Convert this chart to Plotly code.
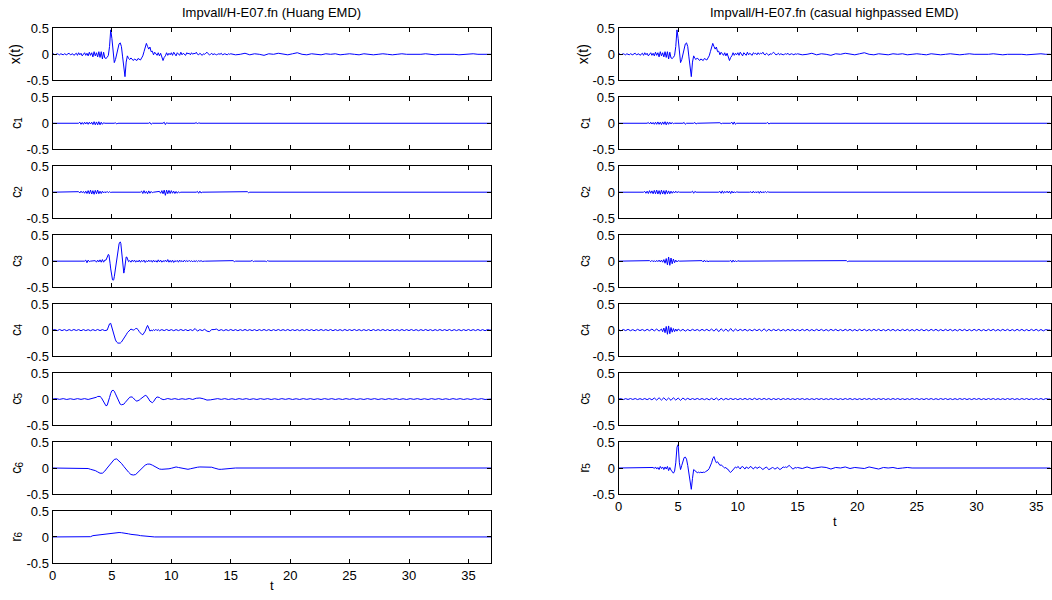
import plotly.graph_objects as go

# Record lengths (s) of the two decompositions
T_END_HUANG = 36.9
T_END_HP = 36.2

# Each series is stored as pieces: (start time, sample step, values)
# Pieces are joined in order; gaps between them are flat at zero.

# ground acceleration record x(t)
X_T = [
    (0.0, 0.1, [
        0.00, 0.01, -0.01, 0.00, 0.01, 0.00, -0.01, 0.01, 0.00, -0.01,
        0.01, 0.00, -0.01, 0.01, 0.02, -0.01, 0.00, 0.01, -0.02, 0.01,
        0.02, -0.02, 0.03, -0.01, 0.02, -0.03, 0.01, 0.03, -0.02, 0.02,
        -0.03, 0.04, -0.02, 0.03, -0.05, 0.05, -0.03, 0.03, -0.05, 0.05,
        -0.06, 0.05, -0.09, 0.04, -0.07, -0.08, -0.06, -0.02, 0.15, 0.47,
        0.30, 0.00, -0.16, -0.10, 0.02, 0.12, 0.20, 0.22, 0.15, -0.05,
        -0.30, -0.43, -0.15, -0.03, -0.08, -0.10, -0.07, -0.10, -0.12, -0.09,
        -0.10, -0.12, -0.08, -0.10, -0.11, -0.07, -0.03, 0.05, 0.12, 0.21,
        0.15, 0.10, 0.14, 0.05, 0.06, -0.01, 0.04, 0.00, -0.02, 0.03,
        -0.03, 0.02, -0.05, -0.12, -0.06, -0.03, 0.03, -0.02, 0.02, -0.01,
        0.03, -0.02, 0.04, 0.00, -0.03, 0.03, 0.01, -0.02, 0.04, -0.01,
        0.02, 0.00, -0.02, 0.03, 0.01, 0.02, -0.01, 0.03, 0.00, 0.02,
        0.01, 0.04, 0.00, -0.01, 0.02, 0.00, -0.02, 0.01, 0.00, 0.02,
        0.04, 0.01, -0.01, 0.00, 0.02, -0.01, 0.01, 0.00, -0.01, 0.00,
        0.01, 0.00, 0.02, -0.01, 0.00, 0.01, 0.00, -0.01, 0.01, 0.00]),
    (15.0, 0.4, [
        0.01, -0.01, 0.00, 0.02, -0.01, 0.01, 0.00, -0.02, 0.01, 0.00,
        0.02, 0.00, -0.01, 0.01, 0.03, 0.00, -0.01, 0.01, 0.00, -0.01,
        0.01, 0.00, 0.01, -0.01, 0.00, 0.01, 0.00, -0.01, 0.01, 0.00,
        -0.01, 0.00, 0.01, 0.00, -0.01, 0.00, 0.01, 0.00, 0.00, -0.01,
        0.00, 0.01, 0.00, -0.01, 0.00, 0.00, 0.01, 0.00, -0.01, 0.00,
        0.00, 0.01, 0.00, 0.00, 0.00]),
]

# ---- Huang EMD ----
C1_HUANG = [
    (2.2, 0.1, [0.0, 0.02, -0.02, 0.015, -0.02, 0.02, -0.015, 0.02,
                -0.02, 0.02, -0.015, 0.02, -0.025, 0.03, -0.03, 0.025, -0.03, 0.03,
                -0.03, 0.02, -0.02, 0.01, 0.0]),
    (5.2, 0.1, [0.0, 0.01, -0.015, 0.0]),
    (8.1, 0.1, [0.0, 0.015, -0.02, 0.0]),
    (9.3, 0.1, [0.0, 0.02, -0.025, 0.01, 0.0]),
    (12.0, 0.1, [0.0, 0.015, -0.015, 0.01, 0.0]),
]

C2_HUANG = [
    (2.2, 0.1, [0.01, -0.015, 0.02, -0.01, 0.015, -0.02, 0.02, -0.025, 0.03, -0.03,
                0.04, -0.035, 0.03, -0.04, 0.035, -0.03, 0.04, -0.03, 0.02, -0.025,
                0.02, -0.015, 0.01, -0.01, 0.015, -0.01, 0.01, -0.005, 0.0]),
    (7.4, 0.1, [0.0, 0.02, -0.025, 0.03, -0.02, 0.015, -0.03, 0.025, -0.02, 0.015, -0.01, 0.0]),
    (9.0, 0.1, [0.015, -0.02, 0.03, -0.03, 0.04, -0.06, 0.04, -0.03, 0.035, -0.025,
                0.03, -0.02, 0.02, -0.025, 0.015, -0.02, 0.01, -0.01, 0.0]),
    (12.1, 0.1, [0.0, 0.015, -0.02, 0.02, -0.015, 0.0]),
    (16.3, 0.1, [0.0, 0.01, -0.01, 0.0]),
]

C3_HUANG = [
    (2.7, 0.1, [0.0, 0.02, -0.03, 0.02, -0.01, 0.0]),
    (3.6, 0.1, [0.01, -0.02, 0.02, -0.015, 0.025, -0.02, 0.03, -0.02, 0.02]),
    (4.5, 0.05, [0.02, 0.05, 0.09, 0.12, 0.13, 0.12, 0.06, -0.05, -0.15, -0.25,
                 -0.32, -0.36, -0.37, -0.36, -0.30, -0.22, -0.12, -0.02, 0.07, 0.15,
                 0.22, 0.28, 0.33, 0.36, 0.37, 0.34, 0.22, 0.05, -0.10, -0.20,
                 -0.23, -0.18, -0.06, 0.04, 0.08, 0.08, 0.05, 0.01, -0.01, 0.0]),
    (6.5, 0.1, [0.01, -0.02, 0.02, -0.01, 0.02, -0.02, 0.01, -0.015, 0.02, -0.02,
                0.015, -0.01, 0.02, -0.025, 0.01, -0.015, 0.02, -0.01, 0.015, -0.02,
                0.02, -0.015, 0.01, -0.02, 0.025, -0.015, 0.02, -0.02, 0.01, -0.01,
                0.02, -0.015, 0.03, -0.02, 0.015, -0.02, 0.02, -0.025, 0.01, -0.01,
                0.015, -0.02, 0.02, -0.01, 0.01, -0.015, 0.02, -0.01, 0.01, -0.01,
                0.015, -0.01, 0.01, -0.015, 0.01, -0.01, 0.01, -0.01, 0.01, -0.005,
                0.01, -0.005, 0.005, 0.0, 0.0, 0.0]),
    (15.1, 0.1, [0.0, 0.01, -0.01, 0.0]),
    (16.7, 0.1, [0.0, 0.015, -0.01, 0.0]),
    (17.9, 0.1, [0.0, -0.01, 0.01, 0.0]),
]

C4_HUANG = [
    (0.0, 0.2, [0.0, 0.01, -0.01, 0.012, -0.01, 0.01, -0.012, 0.01, -0.01, 0.012,
                -0.008, 0.01, -0.012, 0.01, -0.01, 0.008, -0.012, 0.01, -0.01, 0.012,
                -0.01, 0.01, -0.01]),
    (4.6, 0.1, [0.0, 0.06, 0.12, 0.13, 0.05, -0.05, -0.12, -0.19, -0.23, -0.25,
                -0.25, -0.25, -0.23, -0.20, -0.16, -0.13, -0.09, -0.05, -0.02, 0.01,
                0.02, 0.01, 0.0, 0.01, 0.03, 0.03, 0.01, -0.03, -0.06, -0.08,
                -0.09, -0.06, -0.02, 0.04, 0.09, 0.04, -0.02, 0.0, -0.015, 0.01,
                -0.01, 0.015, -0.01, 0.01]),
    (9.0, 0.2, [
        -0.012, 0.01, -0.01, 0.012, -0.01, 0.01, -0.012, 0.01, -0.01, 0.012,
        -0.01, 0.01, -0.012, 0.01, -0.01, 0.03, -0.02, 0.01, -0.01, 0.015,
        -0.02, -0.03, 0.01, 0.01, 0.02, -0.01, 0.01, -0.012, 0.01, -0.01,
        0.012, -0.01, 0.01, -0.012, 0.01, -0.01, 0.012, -0.01, 0.01, -0.01,
        0.01, -0.012, 0.01, -0.01, 0.012, -0.01, 0.01, -0.012, 0.01, -0.01,
        0.012, -0.01, 0.01, -0.01, 0.012, -0.012, 0.01, -0.01, 0.01, -0.012,
        0.01, -0.01, 0.012, -0.01, 0.01, -0.012, 0.01, -0.01, 0.012, -0.01,
        0.01, -0.01, 0.012, -0.012, 0.01, -0.01, 0.01, -0.012, 0.012, -0.01,
        0.01, -0.01, 0.012, -0.01, 0.01, -0.012, 0.01, -0.01, 0.01, -0.012,
        0.012, -0.01, 0.01, -0.01, 0.012, -0.01, 0.01, -0.012, 0.01, -0.01,
        0.01, -0.012, 0.012, -0.01, 0.01, -0.01, 0.012, -0.01, 0.01, -0.012,
        0.01, -0.01, 0.012, -0.01, 0.01, -0.012, 0.01, -0.01, 0.012, -0.01,
        0.01, -0.01, 0.012, -0.012, 0.01, -0.01, 0.01, -0.012, 0.01, -0.01,
        0.012, -0.01, 0.01, -0.01, 0.012, -0.01, 0.01, -0.012, 0.01, 0.0]),
]

C5_HUANG = [
    (0.0, 0.3, [0.0, 0.008, -0.006, 0.008, -0.008, 0.006, -0.008, 0.008, -0.006, 0.008,
                -0.008, 0.01]),
    (3.5, 0.1, [0.01, 0.02, 0.035, 0.05, 0.055, 0.05, 0.03, -0.01, -0.06, -0.10,
                -0.13, -0.12, -0.06, 0.03, 0.11, 0.16, 0.17, 0.15, 0.10, 0.04,
                -0.02, -0.07, -0.10, -0.11, -0.11, -0.10, -0.07, -0.04, -0.01, 0.02,
                0.035, 0.04, 0.04, 0.02, -0.01, -0.03, -0.04, -0.035, -0.02, 0.0,
                0.02, 0.045, 0.06, 0.07, 0.065, 0.04, 0.0, -0.04, -0.065, -0.07,
                -0.05, -0.01, 0.02, 0.04, 0.04, 0.03, 0.01, -0.005, -0.01, -0.01,
                0.0, 0.005, 0.01, 0.005]),
    (10.0, 0.3, [
        -0.006, 0.008, -0.008, 0.006, -0.006, 0.01, -0.008, 0.015, 0.02, 0.005,
        -0.02, -0.015, 0.0, 0.008, -0.006, 0.008, -0.008, 0.006, -0.008, 0.008,
        -0.006, 0.008, -0.008, 0.006, -0.008, 0.008, -0.006, 0.008, -0.008, 0.006,
        -0.008, 0.008, -0.006, 0.008, -0.008, 0.006, -0.008, 0.008, -0.006, 0.008,
        -0.008, 0.006, -0.008, 0.008, -0.006, 0.008, -0.008, 0.006, -0.008, 0.008,
        -0.006, 0.008, -0.008, 0.006, -0.008, 0.008, -0.006, 0.008, -0.008, 0.006,
        -0.008, 0.008, -0.006, 0.008, -0.008, 0.006, -0.008, 0.008, -0.006, 0.008,
        -0.008, 0.006, -0.008, 0.008, -0.006, 0.008, -0.008, 0.006, -0.008, 0.008,
        -0.006, 0.008, -0.008, 0.006, -0.008, 0.008, -0.006, 0.008, -0.008, 0.0]),
]

C6_HUANG = [
    (2.6, 0.2, [0.0, 0.0, -0.01, -0.025, -0.035, -0.05, -0.075, -0.10, -0.10, -0.06,
                0.0, 0.06, 0.12, 0.165, 0.175, 0.14, 0.09, 0.03, -0.03, -0.08,
                -0.125, -0.135, -0.125, -0.08, -0.03, 0.02, 0.055, 0.075, 0.075, 0.055,
                0.03, 0.0, -0.02, -0.025, -0.025, -0.02, -0.015, -0.005, 0.01, 0.02,
                0.01, 0.0, -0.01, -0.02, -0.025, -0.015, 0.0, 0.01, 0.015, 0.02,
                0.02, 0.02, 0.02, 0.02, 0.015, 0.0, -0.015, -0.025, -0.025, -0.02,
                -0.015, -0.01, -0.005, 0.0, 0.0]),
]

R6_HUANG = [
    (3.0, 0.2, [0.0, 0.005, 0.025, 0.03, 0.04, 0.045, 0.05, 0.06, 0.065, 0.07,
                0.075, 0.082, 0.085, 0.085, 0.082, 0.078, 0.07, 0.06, 0.05, 0.048,
                0.042, 0.035, 0.025, 0.02, 0.02, 0.015, 0.005, 0.0, 0.0]),
]

# ---- causal high-passed EMD ----
C1_HP = [
    (2.4, 0.1, [0.0, 0.015, -0.015, 0.02, -0.015, 0.015, -0.02, 0.02, -0.02, 0.025,
                -0.02, 0.02, -0.025, 0.025, -0.02, 0.03, -0.03, 0.025, -0.02, 0.02,
                -0.015, 0.015, -0.01, 0.0]),
    (5.4, 0.1, [0.0, 0.015, -0.02, 0.0]),
    (6.3, 0.1, [0.0, 0.015, -0.015, 0.0]),
    (8.4, 0.1, [0.0, 0.01, -0.01, 0.0]),
    (9.4, 0.1, [0.0, 0.02, -0.02, 0.025, -0.02, 0.0]),
    (12.4, 0.1, [0.0, 0.015, -0.015, 0.0]),
]

C2_HP = [
    (2.1, 0.1, [0.0, 0.015, -0.02, 0.02, -0.025, 0.03, -0.02, 0.025, -0.03, 0.035,
                -0.03, 0.04, -0.035, 0.03, -0.04, 0.04, -0.035, 0.03, -0.04, 0.035,
                -0.03, 0.025, -0.03, 0.02, -0.02, 0.015, -0.015, 0.02, -0.01, 0.01, 0.0]),
    (6.1, 0.1, [0.0, 0.02, -0.02, 0.015, 0.0]),
    (8.4, 0.1, [0.0, 0.015, -0.02, 0.025, -0.02, 0.015, -0.01, 0.02, -0.015, 0.02,
                -0.025, 0.02, -0.015, 0.01, -0.015, 0.01, 0.0]),
    (11.0, 0.1, [0.0, 0.01, -0.015, 0.02, -0.015, 0.01, -0.01, 0.015, -0.02, 0.02,
                 -0.015, 0.01, -0.01, 0.015, -0.01, 0.01, 0.0]),
]

C3_HP = [
    (2.5, 0.1, [0.0, 0.01, -0.01, 0.015, -0.01, 0.01, -0.015, 0.015, -0.01, 0.02,
                -0.015, 0.02, -0.02, 0.03, -0.04, 0.05, -0.07, 0.08, -0.08, 0.06,
                -0.05, 0.04, -0.03, 0.02, -0.015, 0.01, 0.0]),
    (6.9, 0.1, [0.0, 0.01, -0.015, 0.02, -0.015, 0.01, -0.01, 0.0]),
    (9.3, 0.1, [0.0, 0.015, -0.02, 0.02, -0.015, 0.01, -0.015, 0.01, 0.0]),
    (19.0, 0.1, [0.0, 0.01, -0.01, 0.0]),
]

C4_HP = [
    (0.0, 0.2, [0.01, -0.015, 0.012, -0.01, 0.015, -0.012, 0.01, -0.015, 0.015, -0.01,
                0.012, -0.015, 0.015, -0.012, 0.02, -0.015, 0.02, -0.02]),
    (3.6, 0.1, [0.02, -0.03, 0.04, -0.05, 0.07, -0.08, 0.08, -0.07, 0.05, -0.04,
                0.03, -0.03, 0.02, -0.02]),
    (5.0, 0.2, [
        0.02, -0.015, 0.015, -0.02, 0.012, -0.015, 0.015, -0.01, 0.012, -0.015,
        0.015, -0.012, 0.015, -0.015, 0.02, -0.02, 0.025, -0.03, 0.025, -0.02,
        0.02, -0.025, 0.03, -0.025, 0.02, -0.015, 0.015, -0.012, 0.015, -0.015,
        0.012, -0.015, 0.015, -0.012, 0.015, -0.02, 0.025, -0.02, 0.015, -0.015,
        0.015, -0.012, 0.015, -0.015, 0.012, -0.015, 0.015, -0.012, 0.015, -0.015,
        0.012, -0.015, 0.015, -0.012, 0.015, -0.015, 0.012, -0.015, 0.015, -0.012,
        0.015, -0.015, 0.012, -0.015, 0.015, -0.012, 0.015, -0.015, 0.012, -0.015,
        0.015, -0.012, 0.015, -0.015, 0.012, -0.015, 0.015, -0.012, 0.015, -0.015,
        0.012, -0.015, 0.015, -0.012, 0.015, -0.015, 0.012, -0.015, 0.015, -0.012,
        0.015, -0.015, 0.012, -0.015, 0.015, -0.012, 0.015, -0.015, 0.012, -0.015,
        0.015, -0.012, 0.015, -0.015, 0.012, -0.015, 0.015, -0.012, 0.015, -0.015,
        0.012, -0.015, 0.015, -0.012, 0.015, -0.015, 0.012, -0.015, 0.015, -0.012,
        0.015, -0.015, 0.012, -0.015, 0.015, -0.012, 0.015, -0.015, 0.012, -0.015,
        0.015, -0.012, 0.015, -0.015, 0.012, -0.015, 0.015, -0.012, 0.015, -0.015,
        0.012, -0.015, 0.015, -0.012, 0.015, -0.015, 0.012, -0.015, 0.015, -0.012,
        0.015, -0.015, 0.012, -0.015, 0.01, 0.0]),
]

C5_HP = [
    (0.0, 0.2, [
        0.0, 0.008, -0.01, 0.008, -0.008, 0.01, -0.008, 0.01, -0.01, 0.008,
        -0.01, 0.01, -0.012, 0.012, -0.015, 0.02, -0.02, 0.025, -0.02, 0.025,
        -0.025, 0.02, -0.025, 0.025, -0.02, 0.02, -0.025, 0.02, -0.015, 0.015,
        -0.012, 0.01, -0.01, 0.012, -0.01, 0.01, -0.012, 0.01, -0.015, 0.015,
        -0.015, 0.02, -0.02, 0.015, -0.015, 0.012, -0.01, 0.012, -0.01, 0.01,
        -0.012, 0.01, -0.01, 0.012, -0.01, 0.01, -0.012, 0.015, -0.01, 0.01,
        -0.01, 0.012, -0.01, 0.01, -0.012, 0.01, -0.01, 0.01, -0.012, 0.01,
        -0.008, 0.01, -0.01, 0.008, -0.01, 0.01, -0.008, 0.01, -0.01, 0.008,
        -0.01, 0.008, -0.01, 0.01, -0.008, 0.01, -0.01, 0.008, -0.01, 0.01,
        -0.008, 0.01, -0.01, 0.008, -0.01, 0.01, -0.008, 0.01, -0.01, 0.008,
        -0.01, 0.008, -0.01, 0.01, -0.008, 0.01, -0.01, 0.008, -0.01, 0.01,
        -0.008, 0.01, -0.01, 0.008, -0.01, 0.01, -0.008, 0.01, -0.01, 0.008,
        -0.01, 0.008, -0.01, 0.01, -0.008, 0.01, -0.01, 0.008, -0.01, 0.01,
        -0.008, 0.01, -0.01, 0.008, -0.01, 0.01, -0.008, 0.01, -0.01, 0.008,
        -0.01, 0.008, -0.01, 0.01, -0.008, 0.01, -0.01, 0.008, -0.01, 0.01,
        -0.008, 0.01, -0.01, 0.008, -0.01, 0.01, -0.008, 0.01, -0.01, 0.008,
        -0.01, 0.008, -0.01, 0.01, -0.008, 0.01, -0.01, 0.008, -0.01, 0.01,
        -0.008, 0.01, -0.01, 0.008, -0.01, 0.01, -0.008, 0.01, -0.01, 0.008,
        0.0]),
]

R5_HP = [
    (2.8, 0.1, [
        0.0, 0.01,
        -0.01, 0.02, -0.02, 0.01, -0.03, 0.03, -0.01, 0.02, -0.03, 0.02,
        -0.02, 0.03, -0.05, 0.01, -0.04, -0.08, -0.10, -0.06, 0.10, 0.40,
        0.45, 0.10, -0.03, 0.05, 0.15, 0.20, 0.21, 0.17, 0.05, -0.10,
        -0.30, -0.41, -0.20, -0.03, -0.05, -0.07, -0.09, -0.08, -0.09, -0.08,
        -0.09, -0.08, -0.085, -0.07, -0.06, -0.04, -0.01, 0.04, 0.10, 0.18,
        0.22, 0.15, 0.10, 0.12, 0.08, 0.05, 0.06, 0.03, 0.02, 0.0,
        0.01, -0.02, -0.03, -0.07, -0.085, -0.06, -0.03, -0.01, 0.02, 0.0,
        0.03, 0.01, -0.02, 0.02, 0.03, 0.0, -0.02, 0.02, 0.01, -0.01,
        0.02, 0.03, 0.0, -0.02, 0.01, 0.02, -0.01, 0.0, 0.02, 0.01,
        -0.02, -0.03, -0.01, 0.0, 0.02, -0.01, -0.03, -0.02, 0.0, 0.01,
        0.0, -0.02, -0.01, 0.01, 0.0, -0.03, -0.02, 0.0, 0.02, 0.01,
        0.02, 0.01, 0.03, 0.05, 0.03, 0.0, -0.02, -0.01, 0.01, 0.0]),
    (15.0, 0.4, [0.01, -0.01, 0.02, -0.01, 0.0, 0.02, 0.01, -0.02, 0.01, 0.0,
                 0.02, -0.01, 0.01, 0.0, -0.01, 0.02, 0.0, -0.02, 0.01, 0.0,
                 0.01, -0.01, 0.0, 0.01, 0.0, 0.0]),
]

# row label: (symbol, subscript or "")
LEFT_ROWS = [(("x(t)", ""), X_T), (("c", "1"), C1_HUANG), (("c", "2"), C2_HUANG),
             (("c", "3"), C3_HUANG), (("c", "4"), C4_HUANG), (("c", "5"), C5_HUANG),
             (("c", "6"), C6_HUANG), (("r", "6"), R6_HUANG)]
RIGHT_ROWS = [(("x(t)", ""), X_T), (("c", "1"), C1_HP), (("c", "2"), C2_HP),
              (("c", "3"), C3_HP), (("c", "4"), C4_HP), (("c", "5"), C5_HP),
              (("r", "5"), R5_HP)]

TITLE_LEFT = "Impvall/H-E07.fn (Huang EMD)"
TITLE_RIGHT = "Impvall/H-E07.fn (casual highpassed EMD)"
X_LABEL = "t"
X_TICKS = [0, 5, 10, 15, 20, 25, 30, 35]
Y_TICKS = [-0.5, 0, 0.5]
Y_TICK_TEXT = ["-0.5", "0", "0.5"]


def assemble(pieces, t_end):
    t, v = [0.0], [0.0]
    for start, step, vals in pieces:
        for i, y in enumerate(vals):
            t.append(start + i * step)
            v.append(y)
    if t_end > t[-1]:
        t.append(t_end)
        v.append(0.0)
    return t, v


W, H = 1052, 600
FONT = "Liberation Sans, Arial, Helvetica, sans-serif"
TICK_SIZE = 13
LABEL_SIZE = 14
SUB_SIZE = 10
ROW_TOP0, ROW_PITCH, ROW_H = 28.3, 68.95, 52.0
# rotated glyph extents (px) used to stack symbol + subscript
SYM_W = {"c": 7.0, "r": 4.7}
SUB_W = 5.6
PANELS = [
    dict(rows=LEFT_ROWS, x0=52.5, x1=491.0, t_end=T_END_HUANG, title=TITLE_LEFT,
         ylab_x=15, xlab_y=585),
    dict(rows=RIGHT_ROWS, x0=618.5, x1=1050.5, t_end=T_END_HP, title=TITLE_RIGHT,
         ylab_x=583, xlab_y=521),
]


def paper_text(text, x_px, y_px, size, angle=0):
    return dict(text=text, xref="paper", yref="paper", x=x_px / W, y=1 - y_px / H,
                textangle=angle, showarrow=False, xanchor="center", yanchor="middle",
                font=dict(family=FONT, size=size, color="black"))


fig = go.Figure()
layout = {}
annotations = []
k = 0
for panel in PANELS:
    n = len(panel["rows"])
    for r, ((sym, sub), pieces) in enumerate(panel["rows"]):
        k += 1
        t, v = assemble(pieces, panel["t_end"])
        fig.add_trace(go.Scatter(x=t, y=v, mode="lines", xaxis=f"x{k}", yaxis=f"y{k}",
                                 line=dict(color="#0000ff", width=1), showlegend=False,
                                 hoverinfo="skip"))
        top = ROW_TOP0 + r * ROW_PITCH
        bot = top + ROW_H
        mid = top + ROW_H / 2
        last = r == n - 1
        layout[f"xaxis{k}"] = dict(
            domain=[panel["x0"] / W, panel["x1"] / W], anchor=f"y{k}",
            range=[0, panel["t_end"]], tickvals=X_TICKS, showticklabels=last,
            ticks="inside", ticklen=4, tickwidth=1, tickcolor="black",
            showline=True, linecolor="black", linewidth=1, mirror="ticks",
            showgrid=False, zeroline=False, automargin=False,
            tickfont=dict(family=FONT, size=TICK_SIZE, color="black"),
        )
        layout[f"yaxis{k}"] = dict(
            domain=[1 - bot / H, 1 - top / H], anchor=f"x{k}",
            range=[-0.5, 0.5], tickvals=Y_TICKS, ticktext=Y_TICK_TEXT,
            ticks="inside", ticklen=4, tickwidth=1, tickcolor="black",
            showline=True, linecolor="black", linewidth=1, mirror="ticks",
            showgrid=False, zeroline=False, automargin=False,
            tickfont=dict(family=FONT, size=TICK_SIZE, color="black"),
        )
        # rotated row label; the index is set as a smaller subscript
        if sub:
            w = SYM_W[sym]
            base = mid + (w + SUB_W) / 2
            annotations.append(paper_text(sym, panel["ylab_x"] + 1, base - w / 2,
                                          LABEL_SIZE, -90))
            annotations.append(paper_text(sub, panel["ylab_x"] + 4, base - w - SUB_W / 2,
                                          SUB_SIZE, -90))
        else:
            annotations.append(paper_text(sym, panel["ylab_x"], mid, LABEL_SIZE, -90))
    x_mid = (panel["x0"] + panel["x1"]) / 2
    annotations.append(paper_text(panel["title"], x_mid, 12.5, TICK_SIZE))
    annotations.append(paper_text(X_LABEL, x_mid, panel["xlab_y"], TICK_SIZE))

fig.update_layout(
    width=W, height=H, margin=dict(l=0, r=0, t=0, b=0, autoexpand=False),
    paper_bgcolor="white", plot_bgcolor="white",
    annotations=annotations, **layout)

fig.write_html("out.html",
               post_script="document.body.style.margin='0';"
                           "document.body.style.overflow='hidden';")
